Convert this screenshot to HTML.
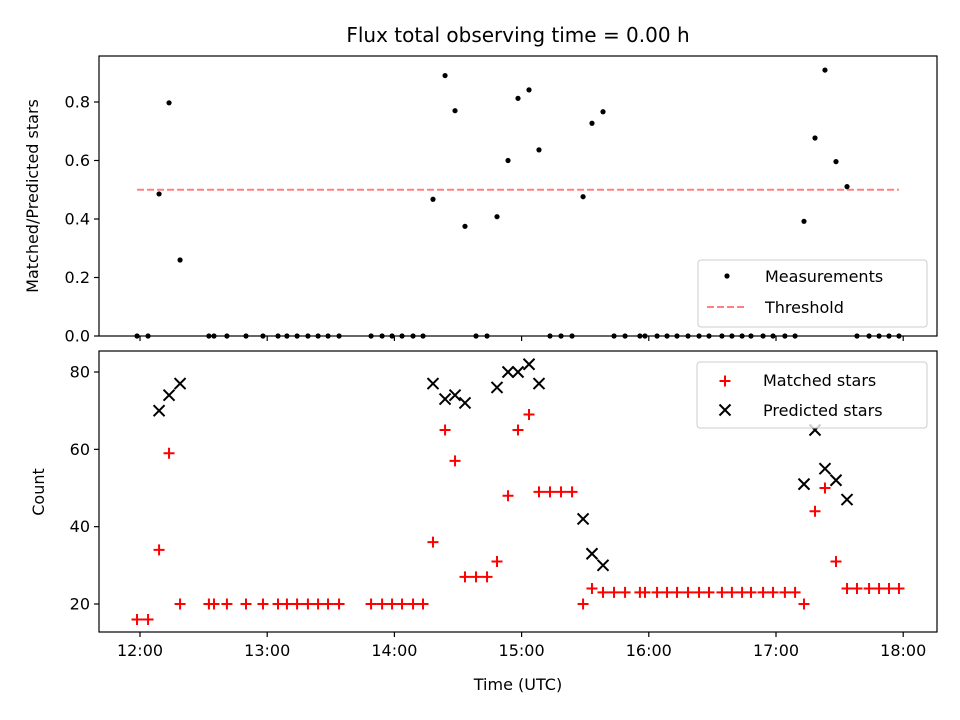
<!DOCTYPE html>
<html><head><meta charset="utf-8"><style>
body{margin:0;background:#fff;}
svg{display:block;font-family:"DejaVu Sans","Liberation Sans",sans-serif;}
</style></head><body>
<svg id="chart" width="960" height="720" viewBox="0 0 960 720" xmlns="http://www.w3.org/2000/svg">
<rect width="960" height="720" fill="#fff"/>
<text x="518" y="42" font-size="20" text-anchor="middle" fill="#000">Flux total observing time = 0.00 h</text>
<g id="topPanel"></g>
<g id="bottomPanel"></g>
</svg>
<script>
// minutes after 12:00 UTC
const minutes = [-1.4,3.8,9.0,13.7,18.9,32.5,34.9,41.0,50.0,58.0,65.1,69.3,74.1,79.2,84.0,88.7,93.9,109.0,114.2,118.9,123.6,128.8,133.5,138.2,143.9,148.6,153.3,158.5,163.7,168.4,173.6,178.3,183.5,188.2,193.4,198.6,203.8,209.0,213.2,218.4,223.6,228.8,235.8,238.2,243.9,248.6,253.3,258.5,263.7,268.4,274.5,279.2,284.0,288.2,293.9,298.6,304.2,309.0,313.2,318.4,323.1,328.3,333.5,338.2,343.9,348.6,353.3,358.0];
const matched = [16,16,34,59,20,20,20,20,20,20,20,20,20,20,20,20,20,20,20,20,20,20,20,36,65,57,27,27,27,31,48,65,69,49,49,49,49,20,24,23,23,23,23,23,23,23,23,23,23,23,23,23,23,23,23,23,23,23,20,44,50,31,24,24,24,24,24,24];
const predicted = [null,null,70,74,77,null,null,null,null,null,null,null,null,null,null,null,null,null,null,null,null,null,null,77,73,74,72,null,null,76,80,80,82,77,null,null,null,42,33,30,null,null,null,null,null,null,null,null,null,null,null,null,null,null,null,null,null,null,51,65,55,52,47,null,null,null,null,null];
const threshold = 0.5;
const topTicks = [0,0.2,0.4,0.6,0.8];
const bottomTicks = [20,40,60,80];
const xTickMinutes = [0,60,120,180,240,300,360];
const xTickLabels = ["12:00","13:00","14:00","15:00","16:00","17:00","18:00"];

const NS="http://www.w3.org/2000/svg";
const xs = m => 140 + m*127.2/60;
const yt = v => 336 - v*292.5;
const yb = v => 604 - (v-20)*232/60;
function mk(tag, attrs, parent){const e=document.createElementNS(NS,tag);for(const k in attrs)e.setAttribute(k,attrs[k]);parent.appendChild(e);return e;}
const gTop=document.getElementById('topPanel'), gBot=document.getElementById('bottomPanel');

let th=mk('line',{x1:xs(-1.4),x2:xs(358),y1:yt(threshold),y2:yt(threshold),stroke:'#ff8080','stroke-width':2,'stroke-dasharray':'7,3'},gTop);


minutes.forEach((m,i)=>{
  const r = predicted[i] ? matched[i]/predicted[i] : 0;
  const c=mk('circle',{cx:xs(m),cy:yt(r),r:2.6,fill:'#000'},gTop);
  
  
});
minutes.forEach((m,i)=>{
  const x=xs(m), y=yb(matched[i]);
  const p=mk('path',{d:`M${x-5.5},${y}H${x+5.5}M${x},${y-5.5}V${y+5.5}`,stroke:'#f00','stroke-width':2},gBot);
  
  
  if(predicted[i]!=null){
    const yp=yb(predicted[i]);
    const q=mk('path',{d:`M${x-5.5},${yp-5.5}L${x+5.5},${yp+5.5}M${x-5.5},${yp+5.5}L${x+5.5},${yp-5.5}`,stroke:'#000','stroke-width':2},gBot);
    
    
  }
});
let f1=mk('rect',{x:99,y:56,width:838,height:280,fill:'none',stroke:'#000','stroke-width':1.2},gTop);


let f2=mk('rect',{x:99,y:351,width:838,height:281,fill:'none',stroke:'#000','stroke-width':1.2},gBot);


topTicks.forEach(v=>{
  mk('line',{x1:94,x2:99,y1:yt(v),y2:yt(v),stroke:'#000','stroke-width':1.2},gTop);
  const t=mk('text',{x:90,y:yt(v)+5.5,'font-size':16,'text-anchor':'end'},gTop);t.textContent=v.toFixed(1);
  
  
});
bottomTicks.forEach(v=>{
  mk('line',{x1:94,x2:99,y1:yb(v),y2:yb(v),stroke:'#000','stroke-width':1.2},gBot);
  const t=mk('text',{x:90,y:yb(v)+5.5,'font-size':16,'text-anchor':'end'},gBot);t.textContent=v;
  
  
});
xTickMinutes.forEach((m,i)=>{
  mk('line',{x1:xs(m),x2:xs(m),y1:336,y2:341,stroke:'#000','stroke-width':1.2},gTop);
  mk('line',{x1:xs(m),x2:xs(m),y1:632,y2:637,stroke:'#000','stroke-width':1.2},gBot);
  const t=mk('text',{x:xs(m),y:656,'font-size':16,'text-anchor':'middle'},gBot);t.textContent=xTickLabels[i];
  
  
});
let a=mk('text',{x:0,y:0,'font-size':16,'text-anchor':'middle',transform:'translate(38,196) rotate(-90)'},gTop);a.textContent='Matched/Predicted stars';


a=mk('text',{x:0,y:0,'font-size':16,'text-anchor':'middle',transform:'translate(44,492) rotate(-90)'},gBot);a.textContent='Count';


a=mk('text',{x:518,y:690,'font-size':16,'text-anchor':'middle'},gBot);a.textContent='Time (UTC)';


let lg=mk('g',{},gTop);


mk('rect',{x:698,y:260,width:229,height:67,rx:3,fill:'#fff','fill-opacity':0.8,stroke:'#ccc'},lg);
mk('circle',{cx:727,cy:276,r:2.6,fill:'#000'},lg);
let t=mk('text',{x:765,y:282,'font-size':16},lg);t.textContent='Measurements';
mk('line',{x1:707,x2:747,y1:307,y2:307,stroke:'#ff8080','stroke-width':2,'stroke-dasharray':'7,3'},lg);
t=mk('text',{x:765,y:313,'font-size':16},lg);t.textContent='Threshold';
lg=mk('g',{},gBot);


mk('rect',{x:697,y:362,width:230,height:66,rx:3,fill:'#fff','fill-opacity':0.8,stroke:'#ccc'},lg);
mk('path',{d:'M719.5,381H730.5M725,375.5V386.5',stroke:'#f00','stroke-width':2},lg);
t=mk('text',{x:763,y:386,'font-size':16},lg);t.textContent='Matched stars';
mk('path',{d:'M719.5,404.5L730.5,415.5M719.5,415.5L730.5,404.5',stroke:'#000','stroke-width':2},lg);
t=mk('text',{x:763,y:416,'font-size':16},lg);t.textContent='Predicted stars';
</script>
</body></html>
